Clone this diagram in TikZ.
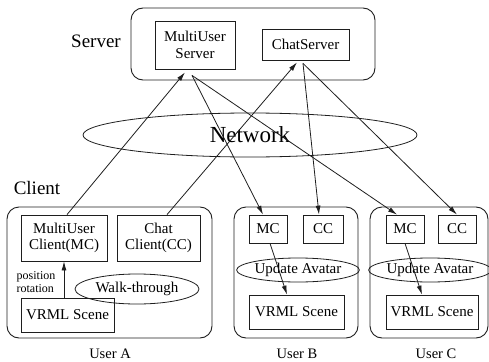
\documentclass[tikz,border=0pt]{standalone}
\usepackage{fontspec}
\setmainfont{Liberation Serif}
\usetikzlibrary{arrows.meta,shapes.geometric}
\definecolor{inkgray}{HTML}{1E1E1E}

\begin{document}
\begin{tikzpicture}[x=1pt, y=-1pt,
  group/.style={draw=inkgray, rounded corners=12pt, line width=0.9pt},
  box/.style={draw=inkgray, line width=0.8pt, align=center, inner sep=0pt, font=\fontsize{15}{16.5}\selectfont},
  oval/.style={draw=inkgray, ellipse, line width=0.8pt, inner sep=0pt, font=\fontsize{15}{16.5}\selectfont},
  lbl/.style={font=\fontsize{19}{21}\selectfont},
  usr/.style={font=\fontsize{14.5}{16}\selectfont},
  arr/.style={-{Latex[length=9pt,width=5pt]}, line width=0.8pt, inkgray}]
\useasboundingbox (0,0) rectangle (489,361);

% server side
\node[group, minimum width=244pt, minimum height=72pt] at (253,44) (srv) {};
\node[lbl] at (96,41) (srvlbl) {Server};
\node[box, minimum width=80pt, minimum height=48pt] at (195,45) (mus) {MultiUser\\Server};
\node[box, minimum width=87pt, minimum height=31pt] at (305.5,44.5) (cs) {ChatServer};

\node[oval, minimum width=334pt, minimum height=44pt, font=\fontsize{23}{25}\selectfont] at (250,135) (net) {Network};

\node[lbl] at (37,188) (cltlbl) {Client};

% user A
\node[group, minimum width=205pt, minimum height=131pt] at (109.5,272.5) (boxa) {};
\node[box, minimum width=86pt, minimum height=46pt] at (64,238) (mca) {MultiUser\\Client(MC)};
\node[box, minimum width=83pt, minimum height=46pt] at (158.5,238) (cca) {Chat\\Client(CC)};
\node[box, minimum width=93pt, minimum height=34pt] at (67.5,315) (vra) {VRML Scene};
\node[oval, minimum width=124pt, minimum height=30pt] at (137,289) (walk) {Walk-through};
\node[align=left, inner sep=0pt, font=\fontsize{12}{13}\selectfont] at (36,282) (posrot) {position\\rotation};
\node[usr] at (110,354) (usra) {User A};

% user B
\node[group, minimum width=124pt, minimum height=131pt] at (296,272.5) (boxb) {};
\node[box, minimum width=38pt, minimum height=28pt] at (268,229) (mcb) {MC};
\node[box, minimum width=40pt, minimum height=28pt] at (323,229) (ccb) {CC};
\node[oval, minimum width=104pt, minimum height=24pt] at (298,270) (upb) {Update Avatar};
\node[box, minimum width=95pt, minimum height=34pt] at (296.5,312) (vrb) {VRML Scene};
\node[usr] at (297,354) (usrb) {User B};

% user C
\node[group, minimum width=118pt, minimum height=131pt] at (429,272.5) (boxc) {};
\node[box, minimum width=38pt, minimum height=28pt] at (405,229) (mcc) {MC};
\node[box, minimum width=38pt, minimum height=28pt] at (457,229) (ccc) {CC};
\node[oval, minimum width=114pt, minimum height=24pt] at (430,270) (upc) {Update Avatar};
\node[box, minimum width=92pt, minimum height=34pt] at (432,312) (vrc) {VRML Scene};
\node[usr] at (436,354) (usrc) {User C};

% connections
\draw[arr] ([xshift=3pt]mca.north) -- ([xshift=-10pt,yshift=-3pt]mus.south);
\draw[arr] ([xshift=8.5pt]cca.north) -- ([xshift=-8.5pt,yshift=-2pt]cs.south);
\draw[arr] ([xshift=-3pt,yshift=-6pt]mus.south) -- ([xshift=-5pt]mcb.north);
\draw[arr] ([xshift=-3pt,yshift=-6pt]mus.south) -- ([xshift=-8pt]mcc.north);
\draw[arr] ([xshift=-2.5pt,yshift=-3pt]cs.south) -- ([xshift=-4pt]ccb.north);
\draw[arr] ([xshift=-2.5pt,yshift=-3pt]cs.south) -- (ccc.north);
\draw[arr] ([xshift=-3.5pt]vra.north) -- (mca.south);
\draw[arr] ([xshift=2pt]mcb.south) -- ([xshift=-9.5pt]vrb.north);
\draw[arr] (mcc.south) -- ([xshift=-10pt]vrc.north);
\end{tikzpicture}
\end{document}
